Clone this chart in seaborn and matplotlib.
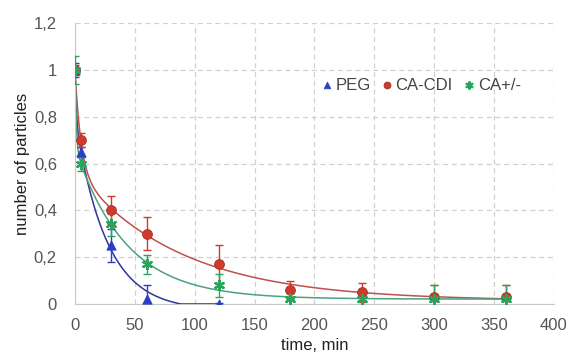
import numpy as np
import pandas as pd
import seaborn as sns
import matplotlib
matplotlib.use("Agg")
import matplotlib.pyplot as plt

# values
time_peg = [0, 5, 30, 60, 120]
peg = [1.0, 0.65, 0.25, 0.02, 0.0]
peg_err = [0.03, 0.02, 0.07, 0.06, 0.005]

time_ca = [0, 5, 30, 60, 120, 180, 240, 300, 360]
ca_cdi = [1.0, 0.70, 0.40, 0.30, 0.17, 0.06, 0.05, 0.03, 0.03]
ca_cdi_err = [0.02, 0.03, 0.06, 0.07, 0.08, 0.04, 0.04, 0.05, 0.05]
ca_pm = [1.0, 0.60, 0.34, 0.17, 0.08, 0.02, 0.02, 0.02, 0.02]
ca_pm_err = [0.06, 0.03, 0.05, 0.04, 0.05, 0.03, 0.03, 0.06, 0.06]

series_names = ["PEG", "CA-CDI", "CA+/-"]
point_colors = ["#2b3fc4", "#d03a2c", "#27a55c"]
line_colors = ["#33339a", "#c0504d", "#4aa27e"]
markers = ["^", "o", (6, 2, 0)]
sizes = [45, 50, 45]


def fit_trend(t, y):
    # two-exponential trend line fitted to the points (least squares, grid over time constants)
    t = np.asarray(t, float)
    y = np.asarray(y, float)
    best = None
    for tau1 in np.linspace(1, 40, 60):
        for tau2 in np.linspace(10, 200, 60):
            X = np.column_stack([np.exp(-t / tau1), np.exp(-t / tau2), np.ones_like(t)])
            coef, *_ = np.linalg.lstsq(X, y, rcond=None)
            res = np.sum((X @ coef - y) ** 2)
            if best is None or res < best[0]:
                best = (res, tau1, tau2, coef)
    _, tau1, tau2, coef = best
    tt = np.linspace(0, t.max(), 300)
    yy = coef[0] * np.exp(-tt / tau1) + coef[1] * np.exp(-tt / tau2) + coef[2]
    return tt, np.clip(yy, 0, None)


sns.set_style("white")
plt.rcParams["font.family"] = ["Liberation Sans", "DejaVu Sans"]

fig, ax = plt.subplots(figsize=(5.68, 3.58), dpi=100)

data = [(time_peg, peg, peg_err), (time_ca, ca_cdi, ca_cdi_err), (time_ca, ca_pm, ca_pm_err)]

for (t, y, e), name, pc, lc, m, sz in zip(data, series_names, point_colors, line_colors, markers, sizes):
    tt, yy = fit_trend(t, y)
    sns.lineplot(x=tt, y=yy, color=lc, lw=1.1, ax=ax, legend=False)
    ax.errorbar(t, y, yerr=e, fmt="none", ecolor=pc, elinewidth=1.0, capsize=3, capthick=1.0, zorder=3)
    df = pd.DataFrame({"t": t, "y": y})
    lw = 1.6 if m == (6, 2, 0) else 0.6
    sns.scatterplot(data=df, x="t", y="y", marker=m, color=pc, s=sz,
                    edgecolor=pc if m != "o" else "#a83024", linewidth=lw, ax=ax, label=name, zorder=4)

ax.set_xlim(0, 400)
ax.set_ylim(0, 1.2)
ax.set_xticks(np.arange(0, 401, 50))
ax.set_yticks(np.arange(0, 1.21, 0.2))
ax.set_yticklabels(["0", "0,2", "0,4", "0,6", "0,8", "1", "1,2"])
ax.grid(True, ls=(0, (4, 3)), color="#d0d0d0", lw=0.9)
for s in ["top", "right"]:
    ax.spines[s].set_visible(False)
for s in ["left", "bottom"]:
    ax.spines[s].set_color("#c8c8c8")
ax.tick_params(axis="both", colors="#555555", labelsize=12, length=0)
ax.tick_params(axis="y", pad=13)
ax.tick_params(axis="x", pad=10)
ax.set_xlabel("time, min", fontsize=12, color="#222222", labelpad=4)
ax.set_ylabel("number of particles", fontsize=12, color="#222222", labelpad=3)

ax.legend(loc="center", bbox_to_anchor=(0.72, 0.78), ncol=3, frameon=False, fontsize=12,
          handletextpad=0.0, columnspacing=0.5, handlelength=1.0, markerscale=0.7,
          labelcolor="#444444")

plt.subplots_adjust(left=0.132, right=0.975, top=0.935, bottom=0.151)
plt.savefig("out.png", dpi=100)
